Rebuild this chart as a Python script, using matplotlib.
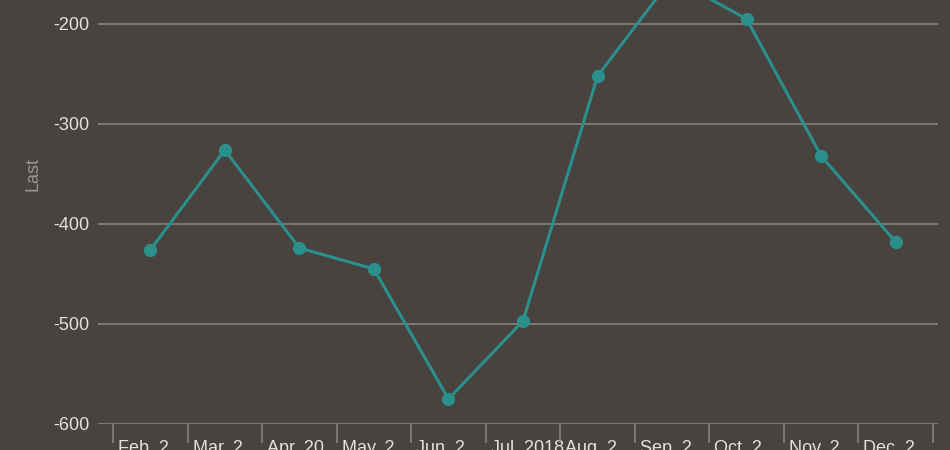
import matplotlib
matplotlib.use("Agg")
import matplotlib.pyplot as plt
import matplotlib.transforms as mtransforms

months = ["Feb. 2", "Mar. 2", "Apr. 20", "May. 2", "Jun. 2", "Jul. 2018",
          "Aug. 2", "Sep. 2", "Oct. 2", "Nov. 2", "Dec. 2"]
last = [-426, -326, -424, -445, -575, -497, -252, -154, -195, -332, -418]

bg = "#48433f"
teal = "#2b8f8c"
grid_c = "#8a8682"
text_c = "#e4e1dd"

plt.rcParams['font.family'] = ['Liberation Sans', 'DejaVu Sans']
plt.rcParams['axes.unicode_minus'] = False

fig = plt.figure(figsize=(9.5, 4.5), dpi=100, facecolor=bg)
# axes runs past the top edge of the figure (chart is cropped there)
ax = fig.add_axes([98/950, 26/450, 840/950, 500/450], facecolor=bg)

x = list(range(len(months)))
ax.plot(x, last, color=teal, lw=2.2, marker='o', ms=8.5, zorder=3)

ax.set_ylim(-600, -100)
ax.set_xlim(-0.5 - 15/74.5, 10.5 + 5/74.5)
ax.set_yticks([-600, -500, -400, -300, -200])
ax.yaxis.grid(True, color=grid_c, lw=1.1)
ax.set_axisbelow(True)
for s in ax.spines.values():
    s.set_visible(False)

ax.tick_params(axis='y', length=0, pad=6, labelsize=13, labelcolor=text_c)
ax.set_ylabel("Last", color="#9b9691", fontsize=13, labelpad=8.5)

# band boundaries as tick marks, labels at band centres
ax.set_xticks([i - 0.5 for i in range(len(months) + 1)], minor=True)
ax.tick_params(axis='x', which='minor', length=14, width=1.1, color=grid_c)
ax.set_xticks(x)
ax.set_xticklabels(months)
ax.tick_params(axis='x', which='major', length=0, pad=11.5, labelsize=13, labelcolor=text_c)
shift = mtransforms.ScaledTranslation(-(74.5/2 - 5)/100, 0, fig.dpi_scale_trans)
for lab in ax.get_xticklabels():
    lab.set_horizontalalignment('left')
    lab.set_transform(lab.get_transform() + shift)

fig.savefig("out.png", dpi=100, facecolor=bg)
